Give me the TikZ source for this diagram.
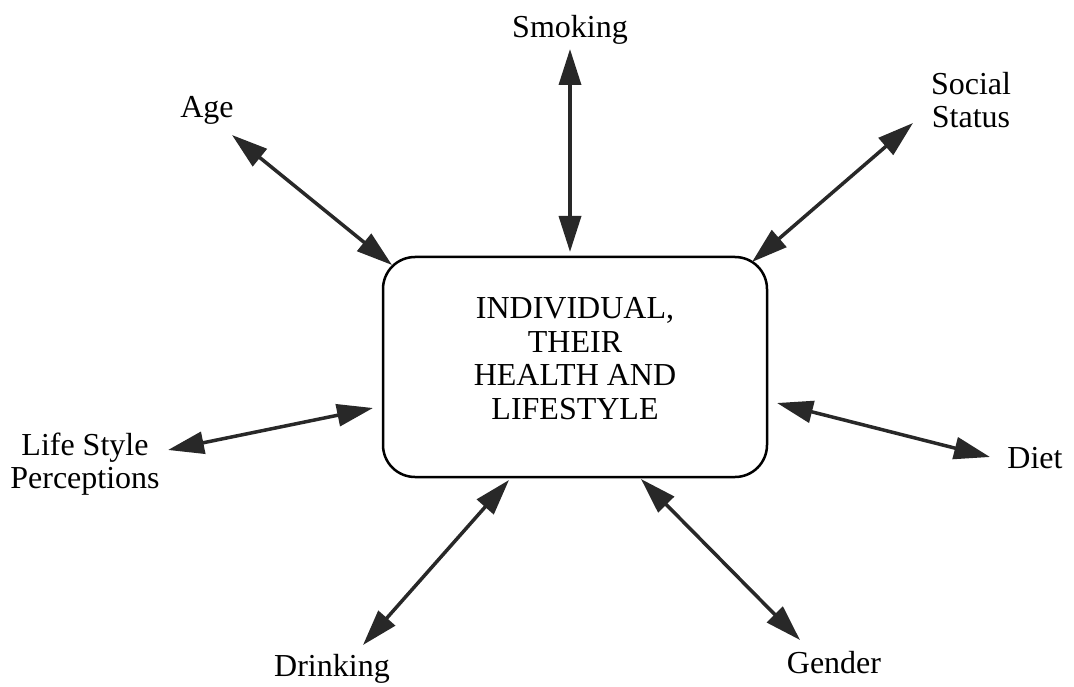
\documentclass[tikz,border=0pt]{standalone}
\usepackage{fontspec}
\setmainfont{Liberation Serif}
\usetikzlibrary{arrows.meta}
\definecolor{arr}{RGB}{40,40,40}
\begin{document}
\begin{tikzpicture}[x=1pt,y=-1pt,
  lbl/.style={font=\fontsize{32}{33}\selectfont, inner sep=0pt, align=center, anchor=base},
  mainbox/.style={draw=black, line width=2.5pt, rounded corners=32pt, minimum width=384pt, minimum height=220pt, align=center, font=\fontsize{32}{33.5}\selectfont, text depth=17pt},
  link/.style={draw=arr, line width=3.5pt, {Triangle[length=36pt,width=22pt,fill=arr]}-{Triangle[length=36pt,width=22pt,fill=arr]}}]
\useasboundingbox (0,0) rectangle (1074,687);
\node[mainbox] (ind) at (575,367) {INDIVIDUAL,\\THEIR\\HEALTH AND\\LIFESTYLE};
\node[lbl] (smoking) at (570,38) {Smoking};
\node[lbl] (age) at (207,118) {Age};
\node[lbl] (social) at (971,128) {Social\\Status};
\node[lbl] (life) at (85,488) {Life Style\\Perceptions};
\node[lbl] (diet) at (1035,468) {Diet};
\node[lbl] (drink) at (332,676) {Drinking};
\node[lbl] (gender) at (834,673) {Gender};
% arrow tip points
\coordinate (smokingO) at (570,49);  \coordinate (smokingI) at (570,252);
\coordinate (ageO) at (232,135);     \coordinate (ageI) at (392,265);
\coordinate (socialO) at (913,123);  \coordinate (socialI) at (752,262);
\coordinate (lifeO) at (168,450);    \coordinate (lifeI) at (373,408);
\coordinate (dietO) at (990,457);    \coordinate (dietI) at (777,403);
\coordinate (drinkO) at (363,645);   \coordinate (drinkI) at (509,480);
\coordinate (genderO) at (800,640);  \coordinate (genderI) at (641,479);
\draw[link] (smokingO) -- (smokingI);
\draw[link] (ageO) -- (ageI);
\draw[link] (socialO) -- (socialI);
\draw[link] (lifeO) -- (lifeI);
\draw[link] (dietO) -- (dietI);
\draw[link] (drinkO) -- (drinkI);
\draw[link] (genderO) -- (genderI);
\end{tikzpicture}
\end{document}
